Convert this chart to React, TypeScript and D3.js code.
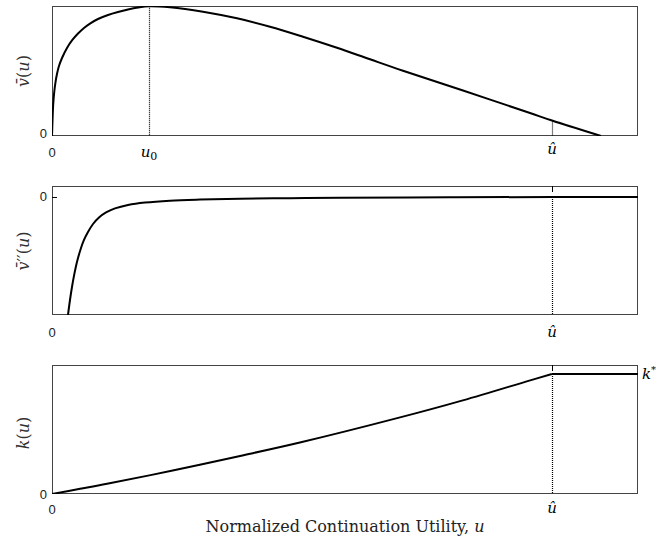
import { useEffect, useRef } from "react";
import * as d3 from "d3";

// top panel: value function v-bar(u)
const uV = [0, 0.0009, 0.002, 0.0038, 0.006, 0.0085, 0.0119, 0.0171, 0.0256, 0.0341, 0.0444, 0.0546, 0.0648, 0.0785, 0.0956, 0.1126, 0.1297, 0.1468, 0.1655, 0.2014, 0.2577, 0.3157, 0.372, 0.4283, 0.4863, 0.5427, 0.599, 0.7014, 0.8157, 0.8532, 0.9369];
const vBar = [0, 0.123, 0.238, 0.338, 0.415, 0.477, 0.538, 0.6, 0.677, 0.735, 0.788, 0.831, 0.865, 0.9, 0.931, 0.954, 0.973, 0.988, 0.998, 0.99, 0.956, 0.905, 0.841, 0.764, 0.679, 0.59, 0.502, 0.35, 0.177, 0.119, 0];

// middle panel: second derivative v-bar''(u)
const uV2 = [0.0273, 0.0307, 0.0341, 0.0375, 0.041, 0.0444, 0.0495, 0.0546, 0.0614, 0.07, 0.0802, 0.0922, 0.1075, 0.1297, 0.1587, 0.2014, 0.2526, 0.3208, 0.4061, 0.4915, 0.6792, 0.8532, 1];
const vBar2 = [-1.0, -0.873, -0.763, -0.669, -0.585, -0.517, -0.432, -0.364, -0.297, -0.229, -0.174, -0.131, -0.097, -0.068, -0.047, -0.031, -0.022, -0.015, -0.01, -0.007, -0.003, 0, 0];

// bottom panel: policy k(u)
const uK = [0, 0.048, 0.094, 0.206, 0.321, 0.423, 0.589, 0.701, 0.816, 0.853, 1];
const kVals = [0, 0.04, 0.079, 0.182, 0.295, 0.399, 0.588, 0.726, 0.881, 0.93, 0.93];

const u0 = 0.1655;
const uHat = 0.8532;
const kStar = 0.93;

const W = 656;
const H = 543;
const left = 52;
const right = 638;

const serif = "'DejaVu Serif', serif";
const sans = "'Liberation Sans', Arial, sans-serif";

export default function App() {
  const ref = useRef<SVGSVGElement>(null);

  useEffect(() => {
    const svg = d3.select(ref.current);
    svg.selectAll("*").remove();

    const x = d3.scaleLinear().domain([0, 1]).range([left, right]);
    const y1 = d3.scaleLinear().domain([0, 1]).range([136, 6]);
    const y2 = d3.scaleLinear().domain([-1, 0.093]).range([315, 186]);
    const y3 = d3.scaleLinear().domain([0, 1]).range([494, 365]);

    const defs = svg.append("defs");
    [y1, y2, y3].forEach((y, i) => {
      const [b, t] = y.range();
      defs.append("clipPath").attr("id", "clip" + i)
        .append("rect").attr("x", left).attr("y", t).attr("width", right - left).attr("height", b - t);
    });

    const frame = (y: d3.ScaleLinear<number, number>) => {
      const [b, t] = y.range();
      svg.append("rect")
        .attr("x", left + 0.5).attr("y", t + 0.5)
        .attr("width", right - left - 1).attr("height", b - t - 1)
        .attr("fill", "none").attr("stroke", "#444").attr("stroke-width", 1);
    };

    const smooth = d3.curveCatmullRom.alpha(0.5);

    const curve = (xs: number[], ys: number[], y: d3.ScaleLinear<number, number>, i: number, c: d3.CurveFactory = smooth) => {
      const pts = xs.map((d, j) => [d, ys[j]] as [number, number]);
      const line = d3.line<[number, number]>().x(d => x(d[0])).y(d => y(d[1])).curve(c);
      svg.append("path")
        .attr("d", line(pts))
        .attr("clip-path", `url(#clip${i})`)
        .attr("fill", "none").attr("stroke", "#000").attr("stroke-width", 2)
        .attr("stroke-linejoin", "round");
    };

    const dotted = (u: number, y: d3.ScaleLinear<number, number>, from: number) => {
      const px = Math.round(x(u)) + 0.5;
      svg.append("line")
        .attr("x1", px).attr("x2", px)
        .attr("y1", y(from)).attr("y2", y.range()[0])
        .attr("stroke", "#000").attr("stroke-width", 1.2).attr("stroke-dasharray", "1,1");
    };

    const topTick = (u: number, y: d3.ScaleLinear<number, number>) => {
      const px = Math.round(x(u)) + 0.5;
      const t = y.range()[1];
      svg.append("line").attr("x1", px).attr("x2", px).attr("y1", t).attr("y2", t + 6)
        .attr("stroke", "#000").attr("stroke-width", 1);
    };

    const plain = (tx: number, ty: number, s: string, anchor = "middle") =>
      svg.append("text").attr("x", tx).attr("y", ty).attr("text-anchor", anchor)
        .attr("font-family", sans).attr("font-size", 13).attr("fill", "#222").text(s);

    const uHatLabel = (ty: number) =>
      svg.append("text").attr("x", x(uHat)).attr("y", ty).attr("text-anchor", "middle")
        .attr("font-family", serif).attr("font-style", "italic").attr("font-size", 15).text("û");

    const yLabel = (cy: number, parts: [string, boolean][]) => {
      const t = svg.append("text")
        .attr("transform", `translate(29,${cy}) rotate(-90)`)
        .attr("text-anchor", "middle")
        .attr("font-family", serif).attr("font-size", 16).attr("fill", "#333");
      parts.forEach(([s, it]) => t.append("tspan").attr("font-style", it ? "italic" : "normal").text(s));
    };

    // panel 1
    frame(y1);
    dotted(u0, y1, vBar[uV.indexOf(u0)]);
    dotted(uHat, y1, vBar[uV.indexOf(uHat)]);
    curve(uV, vBar, y1, 0);
    plain(47, 138, "0", "end");
    plain(x(0), 157, "0");
    const u0t = svg.append("text").attr("x", x(u0)).attr("y", 157).attr("text-anchor", "middle")
      .attr("font-family", serif).attr("font-size", 15);
    u0t.append("tspan").attr("font-style", "italic").text("u");
    u0t.append("tspan").attr("font-size", 11).attr("dy", 3).text("0");
    uHatLabel(154);
    yLabel(71, [["v\u0304", true], ["(", false], ["u", true], [")", false]]);

    // panel 2
    frame(y2);
    dotted(uHat, y2, 0);
    topTick(uHat, y2);
    svg.append("line").attr("x1", left).attr("x2", left + 5).attr("y1", y2(0) + 0.5).attr("y2", y2(0) + 0.5)
      .attr("stroke", "#000");
    curve(uV2, vBar2, y2, 1);
    plain(47, y2(0) + 4.5, "0", "end");
    plain(x(0), 337, "0");
    uHatLabel(337);
    yLabel(251, [["v\u0304", true], ["\u2032\u2032(", false], ["u", true], [")", false]]);

    // panel 3
    frame(y3);
    dotted(uHat, y3, kStar);
    topTick(uHat, y3);
    const iHat = uK.indexOf(0.853);
    curve(uK.slice(0, iHat + 1), kVals.slice(0, iHat + 1), y3, 2);
    curve(uK.slice(iHat), kVals.slice(iHat), y3, 2, d3.curveLinear);
    plain(47, y3(0) + 4.5, "0", "end");
    plain(x(0), 514, "0");
    uHatLabel(513);
    yLabel(433, [["k", true], ["(", false], ["u", true], [")", false]]);
    const ks = svg.append("text").attr("x", 642).attr("y", y3(kStar) + 5)
      .attr("font-family", serif).attr("font-size", 15);
    ks.append("tspan").attr("font-style", "italic").text("k");
    ks.append("tspan").attr("font-size", 10).attr("dy", -6).text("*");

    const xl = svg.append("text").attr("x", 345).attr("y", 532).attr("text-anchor", "middle")
      .attr("font-family", serif).attr("font-size", 16).attr("fill", "#222");
    xl.append("tspan").text("Normalized Continuation Utility, ");
    xl.append("tspan").attr("font-style", "italic").text("u");
  }, []);

  return (
    <svg ref={ref} width={W} height={H}
      style={{ position: "absolute", left: 0, top: 0, background: "#fff" }} />
  );
}
